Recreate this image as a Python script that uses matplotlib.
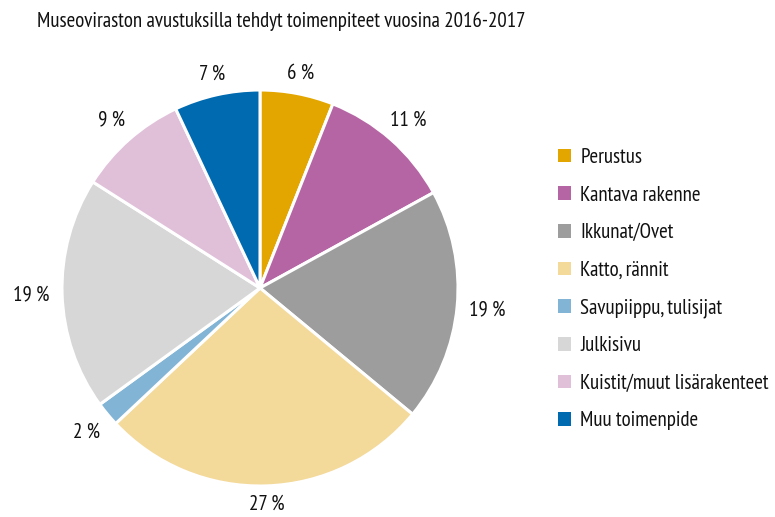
import numpy as np
import matplotlib
matplotlib.use('Agg')
import matplotlib.pyplot as plt
from matplotlib import font_manager
from matplotlib.patches import Patch

# 字体：优先窄体，找不到就用 DejaVu Sans
names = set(f.name for f in font_manager.fontManager.ttflist)
FONT = 'DejaVu Sans'
for cand in ['PT Sans Narrow', 'Roboto Condensed', 'Archivo Narrow', 'Barlow Semi Condensed',
             'Liberation Sans Narrow']:
    if cand in names:
        FONT = cand
        break
plt.rcParams['font.family'] = [FONT, 'DejaVu Sans']

title = 'Museoviraston avustuksilla tehdyt toimenpiteet vuosina 2016-2017'
categories = ['Perustus', 'Kantava rakenne', 'Ikkunat/Ovet', 'Katto, rännit',
              'Savupiippu, tulisijat', 'Julkisivu', 'Kuistit/muut lisärakenteet',
              'Muu toimenpide']
values = [6, 11, 19, 27, 2, 19, 9, 7]
colors = ['#E3A500', '#B565A3', '#9D9D9D', '#F3D99A',
          '#82B4D6', '#D7D7D7', '#E0BFD9', '#006AB0']

FS = 15

fig = plt.figure(figsize=(7.75, 5.17), dpi=100)
W, H = 775, 517
# 饼图区域（像素）
cx, cy, r = 260, 288, 198
ax = fig.add_axes([(cx - r) / W, (H - cy - r) / H, 2 * r / W, 2 * r / H])

wedges, _ = ax.pie(values, colors=colors, startangle=90, counterclock=False,
                   wedgeprops=dict(edgecolor='white', linewidth=2.2))
ax.set_xlim(-1, 1)
ax.set_ylim(-1, 1)
ax.set_aspect('equal')
ax.axis('off')

# 百分比标签
for w, v in zip(wedges, values):
    ang = np.deg2rad((w.theta1 + w.theta2) / 2)
    d = 1.09 + 0.065 * abs(np.cos(ang))
    ax.text(d * np.cos(ang), d * np.sin(ang), f'{v} %', ha='center', va='center',
            fontsize=FS, color='#111111', clip_on=False)

fig.text(37 / W, 1 - 21 / H, title, ha='left', va='center', fontsize=FS, color='#111111')

handles = [Patch(facecolor=c, edgecolor='none') for c in colors]
fig.legend(handles, categories, loc='upper left', bbox_to_anchor=(558 / W, 1 - 148 / H),
           frameon=False, fontsize=FS, handlelength=0.62, handleheight=0.62,
           handletextpad=0.45, labelspacing=0.89, borderaxespad=0, borderpad=0,
           labelcolor='#111111')

fig.savefig('out.png', dpi=100)
